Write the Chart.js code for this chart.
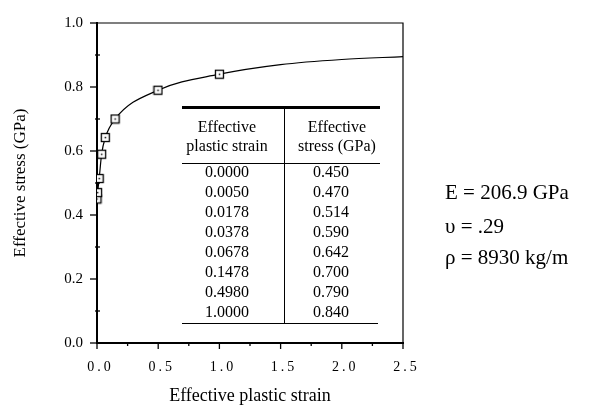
<!DOCTYPE html>
<html>
<head>
<meta charset="utf-8">
<script src="https://cdn.jsdelivr.net/npm/chart.js@4"></script>
<style>
  body { margin: 0; background: #fff; }
  #wrap { width: 590px; height: 413px; }
</style>
</head>
<body>
<div id="wrap"><canvas id="stressChart" width="590" height="413"></canvas></div>
<script>
// table values (strain, stress in GPa)
const strain = [0.0000, 0.0050, 0.0178, 0.0378, 0.0678, 0.1478, 0.4980, 1.0000];
const stress = [0.450, 0.470, 0.514, 0.590, 0.642, 0.700, 0.790, 0.840];
// fitted curve keeps going past the last point
const tailStrain = [1.5, 2.0, 2.5];
const tailStress = [0.870, 0.886, 0.895];

const xTickLabels = ['0.0', '0.5', '1.0', '1.5', '2.0', '2.5'];
const yTickLabels = ['0.0', '0.2', '0.4', '0.6', '0.8', '1.0'];
const headLeft = ['Effective', 'plastic strain'];
const headRight = ['Effective', 'stress (GPa)'];
const props = ['E = 206.9 GPa', 'υ = .29', 'ρ = 8930 kg/m'];

const serif = "'Liberation Serif', 'DejaVu Serif', serif";

// square marker with a dot in the middle
const mark = document.createElement('canvas');
mark.width = 11; mark.height = 11;
const m = mark.getContext('2d');
m.fillStyle = '#fff';
m.fillRect(1, 1, 9, 9);
m.strokeStyle = '#000';
m.lineWidth = 1.3;
m.strokeRect(1.5, 1.5, 8, 8);
m.fillStyle = '#000';
m.fillRect(4.8, 4.8, 1.5, 1.5);

const curve = strain.map((x, i) => ({ x: x, y: stress[i] }))
    .concat(tailStrain.map((x, i) => ({ x: x, y: tailStress[i] })));
const points = strain.map((x, i) => ({ x: x, y: stress[i] }));

const decor = {
    id: 'decor',
    afterDraw(chart) {
        const ctx = chart.ctx;
        const a = chart.chartArea;
        const xs = chart.scales.x, ys = chart.scales.y;
        ctx.save();
        ctx.strokeStyle = '#000';
        ctx.fillStyle = '#000';

        // top and right frame
        ctx.lineWidth = 1.2;
        ctx.beginPath();
        ctx.moveTo(a.left, a.top);
        ctx.lineTo(a.right, a.top);
        ctx.lineTo(a.right, a.bottom);
        ctx.stroke();

        // y ticks
        ctx.lineWidth = 1.3;
        for (let k = 0; k <= 10; k++) {
            const py = ys.getPixelForValue(k / 10);
            ctx.beginPath();
            if (k % 2 === 0) { ctx.moveTo(a.left - 7, py); ctx.lineTo(a.left, py); }
            else { ctx.moveTo(a.left - 2, py); ctx.lineTo(a.left + 3, py); }
            ctx.stroke();
        }
        // x ticks, pointing down
        for (let k = 0; k <= 10; k++) {
            const px = xs.getPixelForValue(k * 0.25);
            ctx.beginPath();
            ctx.moveTo(px, a.bottom);
            ctx.lineTo(px, a.bottom + (k % 2 === 0 ? 6 : 3));
            ctx.stroke();
        }

        // x tick labels, widely spaced
        ctx.font = '14px ' + serif;
        ctx.textBaseline = 'middle';
        ctx.textAlign = 'left';
        const gap = 3;
        xTickLabels.forEach((t, i) => {
            const chars = t.split('');
            const w = chars.reduce((s, c) => s + ctx.measureText(c).width, 0) + gap * (chars.length - 1);
            let cx = xs.getPixelForValue(i * 0.5) - w / 2 + 2;
            chars.forEach(c => {
                ctx.fillText(c, cx, a.bottom + 24);
                cx += ctx.measureText(c).width + gap;
            });
        });

        // table
        const tl = 182, tm = 284, tr = 380;
        ctx.lineWidth = 3;
        ctx.beginPath(); ctx.moveTo(tl, 107.5); ctx.lineTo(tr, 107.5); ctx.stroke();
        ctx.lineWidth = 1;
        ctx.beginPath(); ctx.moveTo(tl, 163.5); ctx.lineTo(tr, 163.5); ctx.stroke();
        ctx.beginPath(); ctx.moveTo(tl, 323.5); ctx.lineTo(tr - 2, 323.5); ctx.stroke();
        ctx.beginPath(); ctx.moveTo(tm + 0.5, 108); ctx.lineTo(tm + 0.5, 323); ctx.stroke();

        ctx.font = '16px ' + serif;
        ctx.textAlign = 'center';
        headLeft.forEach((t, i) => ctx.fillText(t, 227, 128 + i * 19));
        headRight.forEach((t, i) => ctx.fillText(t, 337, 128 + i * 19));
        strain.forEach((v, i) => {
            const ry = 173 + i * 20;
            ctx.fillText(v.toFixed(4), 227, ry);
            ctx.fillText(stress[i].toFixed(3), 331, ry);
        });

        // material properties
        ctx.font = '21px ' + serif;
        ctx.textAlign = 'left';
        ctx.textBaseline = 'alphabetic';
        [199, 233, 264].forEach((by, i) => ctx.fillText(props[i], 445, by));

        ctx.restore();
    }
};

new Chart(document.getElementById('stressChart').getContext('2d'), {
    type: 'scatter',
    data: {
        datasets: [{
            data: points,
            showLine: false,
            pointStyle: mark,
            pointRadius: 5,
            pointHoverRadius: 5
        }, {
            data: curve,
            showLine: true,
            borderColor: '#000',
            borderWidth: 1.2,
            cubicInterpolationMode: 'monotone',
            pointRadius: 0,
            pointHoverRadius: 0,
            fill: false
        }]
    },
    options: {
        responsive: false,
        animation: false,
        events: [],
        layout: { padding: { top: 18, right: 187, left: 0, bottom: 0 } },
        plugins: {
            legend: { display: false },
            tooltip: { enabled: false }
        },
        scales: {
            x: {
                type: 'linear',
                min: 0,
                max: 2.5,
                grid: { display: false, drawTicks: false },
                border: { display: true, color: '#000', width: 2 },
                ticks: { display: false },
                afterFit: s => { s.height = 70; },
                title: {
                    display: true,
                    text: 'Effective plastic strain',
                    color: '#000',
                    font: { family: serif, size: 18 },
                    padding: { top: 0, bottom: 6 }
                }
            },
            y: {
                type: 'linear',
                min: 0,
                max: 1,
                grid: { display: false, drawTicks: false },
                border: { display: true, color: '#000', width: 2 },
                ticks: {
                    stepSize: 0.2,
                    color: '#000',
                    padding: 14,
                    font: { family: serif, size: 15 },
                    callback: (v, i) => yTickLabels[i]
                },
                afterFit: s => { s.width = 97; },
                title: {
                    display: true,
                    text: 'Effective stress (GPa)',
                    color: '#000',
                    font: { family: serif, size: 17 },
                    padding: { top: 10, bottom: 0 }
                }
            }
        }
    },
    plugins: [decor]
});
</script>
</body>
</html>
